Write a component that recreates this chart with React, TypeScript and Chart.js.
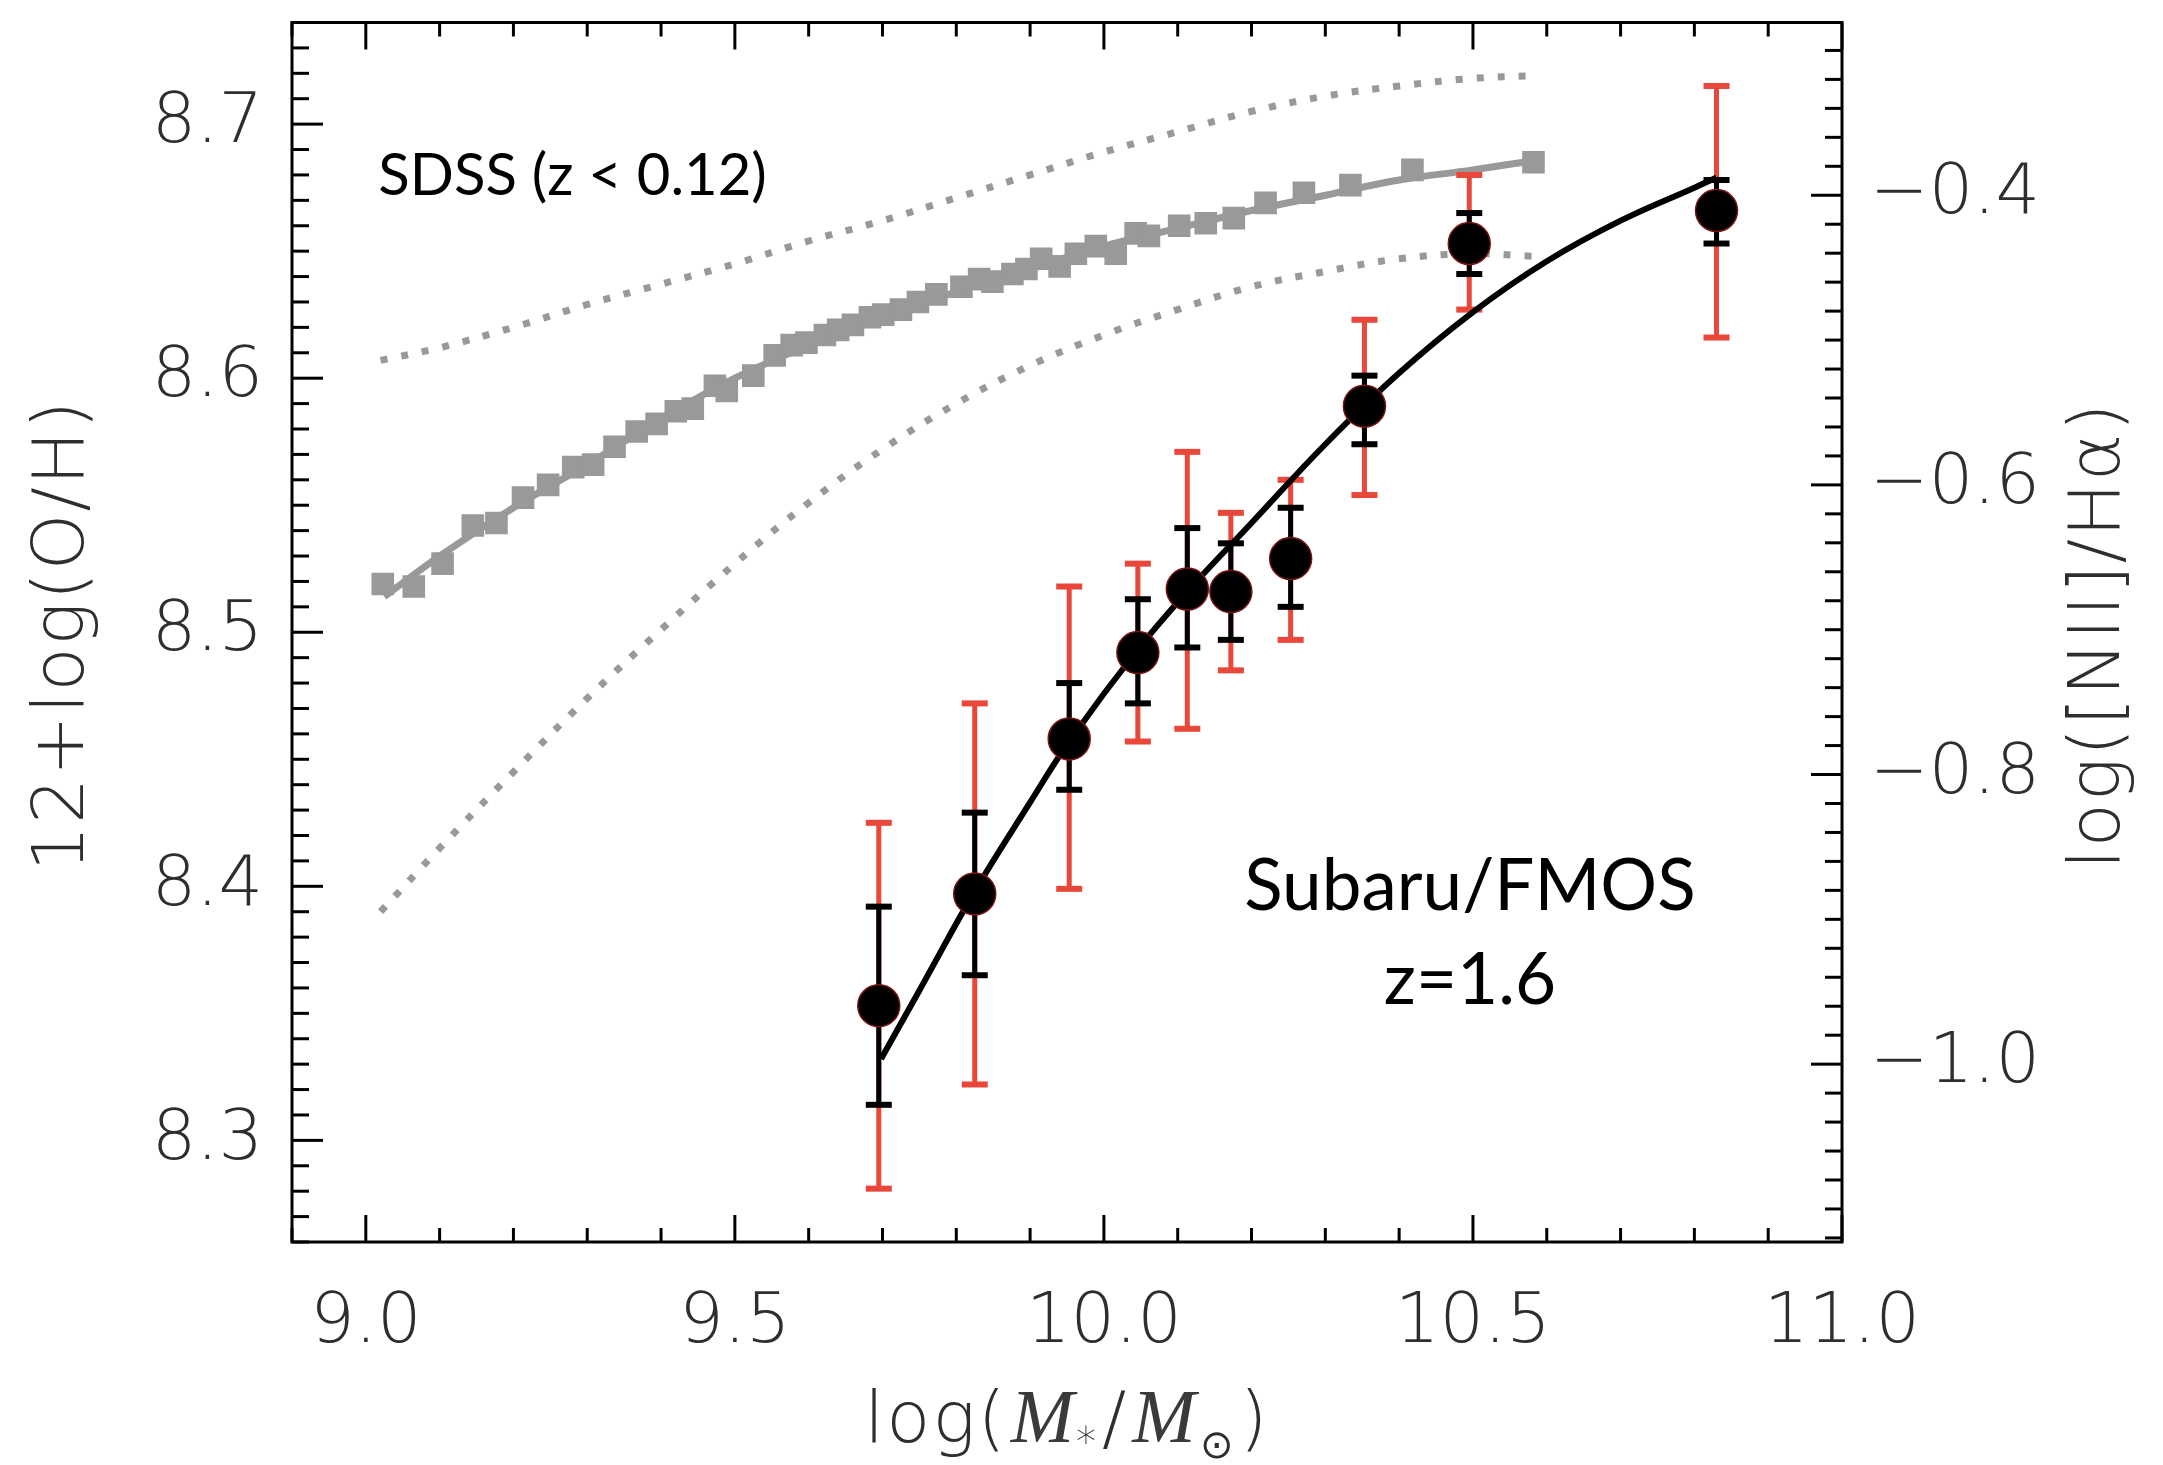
import React, { useEffect, useRef } from 'react';
import { Chart, registerables } from 'chart.js';

Chart.register(...registerables);

// ---------- axis ranges & ticks ----------
const X_MIN = 8.9;
const X_MAX = 11.0;
const Y_MIN = 8.26;
const Y_MAX = 8.74;
// PP04 N2 calibration linking the two y axes: 12+log(O/H) = 8.90 + 0.57 * N2
const N2_ZERO = 8.9;
const N2_SLOPE = 0.57;

const xTickValues = [9.0, 9.5, 10.0, 10.5, 11.0];
const yTickValues = [8.3, 8.4, 8.5, 8.6, 8.7];
const n2TickValues = [-1.0, -0.8, -0.6, -0.4];

// ---------- SDSS (z < 0.12) binned squares ----------
const sdssMass = [
  9.023, 9.065, 9.104, 9.145, 9.177, 9.213, 9.247, 9.281, 9.308, 9.337,
  9.367, 9.394, 9.42, 9.443, 9.473, 9.489, 9.525, 9.554, 9.577, 9.597,
  9.622, 9.64, 9.66, 9.683, 9.701, 9.725, 9.748, 9.773, 9.807, 9.831,
  9.849, 9.876, 9.895, 9.915, 9.94, 9.962, 9.989, 10.016, 10.043, 10.061,
  10.102, 10.138, 10.176, 10.219, 10.271, 10.334, 10.418, 10.582,
];
const sdssOH = [
  8.519, 8.518, 8.527, 8.542, 8.543, 8.553, 8.558, 8.565, 8.566, 8.573,
  8.579, 8.582, 8.587, 8.588, 8.597, 8.595, 8.601, 8.609, 8.613, 8.614,
  8.617, 8.619, 8.621, 8.624, 8.625, 8.627, 8.63, 8.633, 8.636, 8.639,
  8.638, 8.641, 8.643, 8.647, 8.644, 8.649, 8.652, 8.649, 8.657, 8.656,
  8.66, 8.661, 8.663, 8.669, 8.673, 8.676, 8.682, 8.685,
];

// SDSS smooth fit (solid gray)
const sdssFitMass = [9.025, 9.1, 9.2, 9.3, 9.4, 9.5, 9.6, 9.7, 9.8, 9.9, 10.0, 10.1, 10.2, 10.3, 10.4, 10.5, 10.59];
const sdssFitOH = [8.514, 8.53, 8.549, 8.566, 8.584, 8.6, 8.613, 8.624, 8.634, 8.643, 8.652, 8.659, 8.666, 8.672, 8.678, 8.682, 8.686];

// SDSS scatter envelopes (dotted gray)
const sdssUpperMass = [9.02, 9.1, 9.2, 9.3, 9.4, 9.5, 9.6, 9.7, 9.8, 9.9, 10.0, 10.1, 10.2, 10.3, 10.4, 10.5, 10.58];
const sdssUpperOH = [8.607, 8.612, 8.62, 8.629, 8.637, 8.645, 8.654, 8.662, 8.671, 8.68, 8.689, 8.697, 8.705, 8.711, 8.715, 8.718, 8.719];
const sdssLowerMass = [9.02, 9.1, 9.2, 9.3, 9.4, 9.5, 9.6, 9.7, 9.8, 9.9, 10.0, 10.1, 10.2, 10.3, 10.4, 10.5, 10.58];
const sdssLowerOH = [8.39, 8.415, 8.445, 8.474, 8.501, 8.527, 8.551, 8.572, 8.59, 8.605, 8.617, 8.627, 8.636, 8.642, 8.647, 8.649, 8.648];

// ---------- Subaru/FMOS z=1.6 stacked points ----------
const fmosMass = [9.695, 9.825, 9.953, 10.046, 10.113, 10.172, 10.253, 10.353, 10.495, 10.83];
const fmosOH = [8.353, 8.397, 8.458, 8.492, 8.517, 8.516, 8.529, 8.589, 8.653, 8.666];
const fmosStatLow = [8.314, 8.365, 8.438, 8.472, 8.494, 8.497, 8.51, 8.574, 8.641, 8.653];
const fmosStatHigh = [8.392, 8.429, 8.48, 8.513, 8.541, 8.535, 8.549, 8.601, 8.665, 8.678];
const fmosSysLow = [8.281, 8.322, 8.399, 8.457, 8.462, 8.485, 8.497, 8.554, 8.627, 8.616];
const fmosSysHigh = [8.425, 8.472, 8.518, 8.527, 8.571, 8.547, 8.56, 8.623, 8.68, 8.715];

// FMOS fit curve (solid black)
const fmosFitMass = [9.698, 9.75, 9.825, 9.9, 9.953, 10.048, 10.116, 10.2, 10.3, 10.4, 10.5, 10.6, 10.7, 10.8, 10.83];
const fmosFitOH = [8.332, 8.359, 8.398, 8.433, 8.457, 8.494, 8.517, 8.543, 8.574, 8.602, 8.626, 8.646, 8.662, 8.675, 8.679];

// ---------- styling ----------
const GRAY = '#999999';
const RED = '#e8473a';
const AXIS_TEXT = '#2e2e2e';
const THIN_FONT = '"DejaVu Sans", sans-serif';
const LABEL_FONT = 'Lato, "Open Sans", sans-serif';

const pts = (xs: number[], ys: number[]) => xs.map((x, i) => ({ x, y: ys[i] }));

const frameTicksPlugin = {
  id: 'frameTicks',
  afterDraw(chart: any) {
    const { ctx, chartArea: a, scales } = chart;
    const xs = scales.x;
    const ys = scales.y;
    const y2 = scales.y2;
    ctx.save();
    ctx.strokeStyle = '#000';
    ctx.lineCap = 'butt';
    ctx.lineWidth = 3;
    const seg = (x1: number, y1: number, x2: number, y2p: number) => {
      ctx.beginPath();
      ctx.moveTo(x1, y1);
      ctx.lineTo(x2, y2p);
      ctx.stroke();
    };
    // x ticks (every 0.1, major every 0.5), top and bottom, pointing inward
    for (let i = Math.ceil(xs.min * 10 - 1e-6); i <= Math.floor(xs.max * 10 + 1e-6); i++) {
      const px = xs.getPixelForValue(i / 10);
      const len = i % 5 === 0 ? 27 : 14;
      seg(px, a.bottom, px, a.bottom - len);
      seg(px, a.top, px, a.top + len);
    }
    // left y ticks (every 0.01, major every 0.1)
    for (let i = Math.ceil(ys.min * 100 - 1e-6); i <= Math.floor(ys.max * 100 + 1e-6); i++) {
      const py = ys.getPixelForValue(i / 100);
      const len = i % 10 === 0 ? 31 : 17;
      seg(a.left, py, a.left + len, py);
    }
    // right y ticks in N2 units (every 0.02, major every 0.2)
    for (let i = Math.ceil(y2.min * 50 - 1e-6); i <= Math.floor(y2.max * 50 + 1e-6); i++) {
      const py = y2.getPixelForValue(i / 50);
      const len = i % 10 === 0 ? 31 : 17;
      seg(a.right, py, a.right - len, py);
    }
    // frame
    ctx.lineWidth = 3;
    ctx.strokeRect(a.left, a.top, a.right - a.left, a.bottom - a.top);

    // ---- axis titles ----
    const cy = (a.top + a.bottom) / 2 + 3;
    ctx.fillStyle = AXIS_TEXT;
    ctx.textAlign = 'center';
    ctx.textBaseline = 'middle';
    (ctx as any).letterSpacing = '2px';
    ctx.font = `200 72px ${THIN_FONT}`;
    // left title
    ctx.save();
    ctx.translate(a.left - 228, cy);
    ctx.rotate(-Math.PI / 2);
    ctx.fillText('12+log(O/H)', 0, 0);
    ctx.restore();
    // right title (reads bottom to top)
    ctx.save();
    ctx.translate(a.right + 258, cy);
    ctx.rotate(-Math.PI / 2);
    ctx.fillText('log([NII]/H\u03b1)', 0, 0);
    ctx.restore();

    // bottom title: log(M*/M⊙) with italic M
    const baseY = a.bottom + 200;
    const sans = `200 72px ${THIN_FONT}`;
    const ital = `italic 76px "Liberation Serif", "DejaVu Serif", serif`;
    const small = `200 40px ${THIN_FONT}`;
    const parts = [
      { t: 'log(', f: sans, dy: 0, gap: 0, c: AXIS_TEXT },
      { t: 'M', f: ital, dy: 0, gap: 3, c: '#3a3a3a' },
      { t: '*', f: small, dy: 14, gap: 0, c: AXIS_TEXT },
      { t: '/', f: sans, dy: 0, gap: 4, c: AXIS_TEXT },
      { t: 'M', f: ital, dy: 0, gap: 4, c: '#3a3a3a' },
      { t: '\u2299', f: small, dy: 16, gap: 2, c: AXIS_TEXT },
      { t: ')', f: sans, dy: 0, gap: 4, c: AXIS_TEXT },
    ];
    ctx.textAlign = 'left';
    ctx.textBaseline = 'alphabetic';
    let total = 0;
    const widths = parts.map((p) => {
      ctx.font = p.f;
      const w = ctx.measureText(p.t).width + p.gap;
      total += w;
      return w;
    });
    let cx = (a.left + a.right) / 2 - total / 2;
    parts.forEach((p, i) => {
      ctx.font = p.f;
      ctx.fillStyle = p.c;
      ctx.fillText(p.t, cx + p.gap, baseY + p.dy);
      cx += widths[i];
    });

    // ---- in-plot annotations (positioned in data coordinates) ----
    (ctx as any).letterSpacing = '0px';
    ctx.fillStyle = '#000';
    ctx.textBaseline = 'alphabetic';
    ctx.font = `58px ${LABEL_FONT}`;
    ctx.textAlign = 'left';
    ctx.fillText('SDSS (z < 0.12)', xs.getPixelForValue(9.017), ys.getPixelForValue(8.672));
    ctx.font = `71px ${LABEL_FONT}`;
    ctx.textAlign = 'center';
    ctx.fillText('Subaru/FMOS', xs.getPixelForValue(10.496), ys.getPixelForValue(8.3905));
    ctx.fillText('z=1.6', xs.getPixelForValue(10.496), ys.getPixelForValue(8.3538));
    ctx.restore();
  },
};

const errorBarPlugin = {
  id: 'errorBars',
  beforeDatasetDraw(chart: any, args: any) {
    const ds = chart.data.datasets[args.index];
    if (!ds || ds.label !== 'FMOS fit') return;
    const { ctx, scales, chartArea: a } = chart;
    const xs = scales.x;
    const ys = scales.y;
    ctx.save();
    ctx.beginPath();
    ctx.rect(a.left, a.top, a.right - a.left, a.bottom - a.top);
    ctx.clip();
    const drawBars = (lo: number[], hi: number[], color: string) => {
      ctx.strokeStyle = color;
      ctx.fillStyle = color;
      ctx.lineWidth = 5;
      fmosMass.forEach((m, i) => {
        const px = xs.getPixelForValue(m);
        const pLo = ys.getPixelForValue(lo[i]);
        const pHi = ys.getPixelForValue(hi[i]);
        ctx.beginPath();
        ctx.moveTo(px, pLo);
        ctx.lineTo(px, pHi);
        ctx.stroke();
        ctx.fillRect(px - 13, pLo - 3, 26, 6);
        ctx.fillRect(px - 13, pHi - 3, 26, 6);
      });
    };
    drawBars(fmosSysLow, fmosSysHigh, RED);
    drawBars(fmosStatLow, fmosStatHigh, '#000');
    ctx.restore();
  },
};

export default function App() {
  const canvasRef = useRef<HTMLCanvasElement | null>(null);

  useEffect(() => {
    const canvas = canvasRef.current;
    if (!canvas) return;
    const tickFont = { family: THIN_FONT, size: 70, weight: '200' as any };
    const chart = new Chart(canvas, {
      type: 'scatter',
      data: {
        datasets: [
          {
            label: 'FMOS z=1.6',
            type: 'scatter',
            data: pts(fmosMass, fmosOH),
            pointStyle: 'circle',
            pointRadius: 21,
            backgroundColor: '#000',
            borderColor: '#7a1414',
            borderWidth: 1.5,
          },
          {
            label: 'FMOS fit',
            type: 'line',
            data: pts(fmosFitMass, fmosFitOH),
            borderColor: '#000',
            borderWidth: 6,
            pointRadius: 0,
            tension: 0.4,
            fill: false,
          },
          {
            label: 'SDSS bins',
            type: 'scatter',
            data: pts(sdssMass, sdssOH),
            pointStyle: 'rect',
            pointRadius: 16,
            backgroundColor: GRAY,
            borderWidth: 0,
          },
          {
            label: 'SDSS fit',
            type: 'line',
            data: pts(sdssFitMass, sdssFitOH),
            borderColor: GRAY,
            borderWidth: 7,
            pointRadius: 0,
            tension: 0.4,
            fill: false,
          },
          {
            label: 'SDSS upper',
            type: 'line',
            data: pts(sdssUpperMass, sdssUpperOH),
            borderColor: GRAY,
            borderWidth: 7,
            borderDash: [7, 14],
            borderCapStyle: 'butt',
            pointRadius: 0,
            tension: 0.4,
            fill: false,
          },
          {
            label: 'SDSS lower',
            type: 'line',
            data: pts(sdssLowerMass, sdssLowerOH),
            borderColor: GRAY,
            borderWidth: 7,
            borderDash: [7, 14],
            borderCapStyle: 'butt',
            pointRadius: 0,
            tension: 0.4,
            fill: false,
          },
        ],
      },
      options: {
        responsive: false,
        maintainAspectRatio: false,
        devicePixelRatio: 1,
        animation: false,
        events: [],
        layout: { padding: { left: 0, right: 0, top: 12, bottom: 0 } },
        plugins: {
          legend: { display: false },
          tooltip: { enabled: false },
          title: { display: false },
        },
        scales: {
          x: {
            type: 'linear',
            position: 'bottom',
            min: X_MIN,
            max: X_MAX,
            bounds: 'data',
            grid: { display: false, drawTicks: false },
            border: { display: false },
            afterBuildTicks: (s: any) => {
              s.ticks = xTickValues.map((v) => ({ value: v }));
            },
            afterFit: (s: any) => {
              s.height = 1465 - 1242;
              s.paddingLeft = 0;
              s.paddingRight = 0;
            },
            ticks: {
              autoSkip: false,
              maxRotation: 0,
              minRotation: 0,
              padding: 40,
              color: AXIS_TEXT,
              font: tickFont,
              callback: (v: any) => Number(v).toFixed(1),
            },
          },
          y: {
            type: 'linear',
            position: 'left',
            min: Y_MIN,
            max: Y_MAX,
            bounds: 'data',
            grid: { display: false, drawTicks: false },
            border: { display: false },
            afterBuildTicks: (s: any) => {
              s.ticks = yTickValues.map((v) => ({ value: v }));
            },
            afterFit: (s: any) => {
              s.width = 292;
              s.paddingTop = 0;
              s.paddingBottom = 0;
            },
            ticks: {
              autoSkip: false,
              padding: 29,
              color: AXIS_TEXT,
              font: tickFont,
              callback: (v: any) => Number(v).toFixed(1),
            },
          },
          y2: {
            type: 'linear',
            position: 'right',
            min: (Y_MIN - N2_ZERO) / N2_SLOPE,
            max: (Y_MAX - N2_ZERO) / N2_SLOPE,
            bounds: 'data',
            grid: { display: false, drawTicks: false },
            border: { display: false },
            afterBuildTicks: (s: any) => {
              s.ticks = n2TickValues.map((v) => ({ value: v }));
            },
            afterFit: (s: any) => {
              s.width = 2163 - 1842;
              s.paddingTop = 0;
              s.paddingBottom = 0;
            },
            ticks: {
              autoSkip: false,
              padding: 28,
              color: AXIS_TEXT,
              font: tickFont,
              callback: (v: any) => '\u2212' + Math.abs(Number(v)).toFixed(1),
            },
          },
        },
      } as any,
      plugins: [errorBarPlugin, frameTicksPlugin],
    });
    return () => {
      chart.destroy();
    };
  }, []);

  return (
    <div style={{ position: 'absolute', left: 0, top: 0, width: 2163, height: 1465, background: '#fff' }}>
      <canvas ref={canvasRef} width={2163} height={1465} style={{ display: 'block' }} />
    </div>
  );
}
